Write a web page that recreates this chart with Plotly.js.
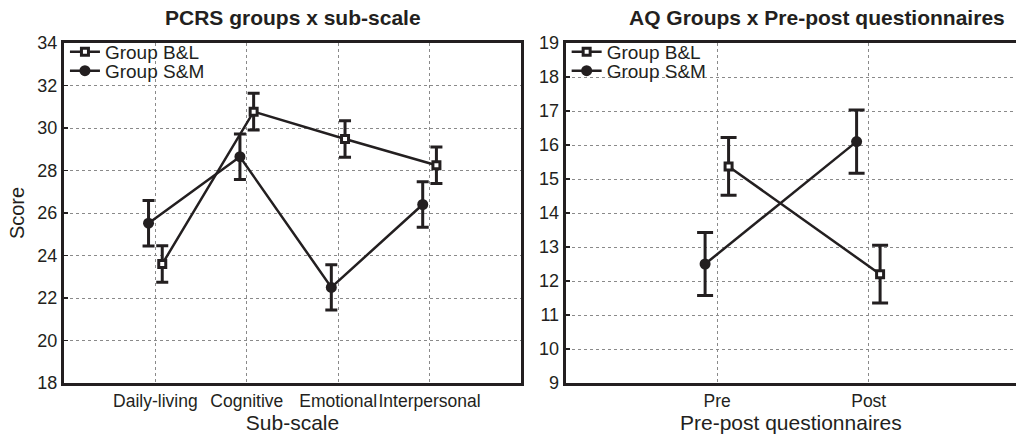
<!DOCTYPE html>
<html>
<head>
<meta charset="utf-8">
<script src="https://cdn.plot.ly/plotly-3.0.1.min.js"></script>
<style>
html,body{margin:0;padding:0;background:#fff;overflow:hidden;}
#chart{width:1016px;height:439px;}
</style>
</head>
<body>
<div id="chart"></div>
<script>
// ---- data ----
const subScales = ['Daily-living', 'Cognitive', 'Emotional', 'Interpersonal'];
const pcrsBL = [23.6, 30.77, 29.48, 28.25];
const pcrsBLErr = [0.86, 0.86, 0.86, 0.86];
const pcrsSM = [25.52, 28.65, 22.5, 26.4];
const pcrsSMErr = [1.07, 1.07, 1.07, 1.07];

const prePost = ['Pre', 'Post'];
const aqBL = [15.37, 12.2];
const aqBLErr = [0.85, 0.85];
const aqSM = [12.5, 16.1];
const aqSMErr = [0.93, 0.93];

const groupNames = ['Group B&L', 'Group S&M'];
const yTicks1 = [18, 20, 22, 24, 26, 28, 30, 32, 34];
const yTicks2 = [9, 10, 11, 12, 13, 14, 15, 16, 17, 18, 19];

// ---- styling ----
const INK = '#231f20';
const FONT = 'Liberation Sans, Arial, sans-serif';
const pos = (arr, off) => arr.map((_, i) => i + 1 + off);

function blTrace(cats, vals, errs, xa, ya, leg, off, capw) {
  return {
    type: 'scatter', mode: 'lines+markers', name: groupNames[0],
    x: pos(cats, off), y: vals, xaxis: xa, yaxis: ya, legend: leg,
    line: {color: INK, width: 2.5},
    marker: {symbol: 'square', size: 7, color: '#fff', line: {color: INK, width: 3}},
    error_y: {type: 'data', array: errs, visible: true, color: INK, thickness: 3, width: capw},
    hoverinfo: 'y'
  };
}
function smTrace(cats, vals, errs, xa, ya, leg, off, capw) {
  return {
    type: 'scatter', mode: 'lines+markers', name: groupNames[1],
    x: pos(cats, off), y: vals, xaxis: xa, yaxis: ya, legend: leg,
    line: {color: INK, width: 2.5},
    marker: {symbol: 'circle', size: 11, color: INK, line: {color: INK, width: 0}},
    error_y: {type: 'data', array: errs, visible: true, color: INK, thickness: 3, width: capw},
    hoverinfo: 'y'
  };
}

const data = [
  smTrace(subScales, pcrsSM, pcrsSMErr, 'x', 'y', 'legend3', -0.075, 6),
  blTrace(subScales, pcrsBL, pcrsBLErr, 'x', 'y', 'legend', 0.075, 6),
  smTrace(prePost, aqSM, aqSMErr, 'x2', 'y2', 'legend4', -0.08, 8),
  blTrace(prePost, aqBL, aqBLErr, 'x2', 'y2', 'legend2', 0.075, 8)
];

const tickFont = {family: FONT, size: 18, color: INK};
const xTickFont = {family: FONT, size: 17.5, color: INK};
const axTitleFont = {family: FONT, size: 21, color: INK};
const gridStyle = {showgrid: true, gridcolor: '#8a8a8a', griddash: 'dot', gridwidth: 1};
const frame = {showline: true, mirror: true, linecolor: INK, linewidth: 3, zeroline: false};

function leg(x, y) {
  return {
    x: x, y: y, yanchor: 'top', xanchor: 'left',
    bgcolor: 'rgba(255,255,255,0)', borderwidth: 0,
    font: {family: FONT, size: 19, color: INK},
    tracegroupgap: 0, itemwidth: 30
  };
}

const layout = {
  width: 1016, height: 439,
  margin: {l: 64, r: 0, t: 43, b: 56},
  paper_bgcolor: '#fff', plot_bgcolor: '#fff',
  font: {family: FONT, color: INK},
  showlegend: true,
  xaxis: Object.assign({
    domain: [0, 0.48], range: [0, 5],
    tickvals: pos(subScales, 0), ticktext: subScales, tickangle: 0,
    ticks: '', tickfont: xTickFont,
    title: {text: 'Sub-scale', font: axTitleFont, standoff: 5}
  }, gridStyle, frame),
  yaxis: Object.assign({
    domain: [0, 1], range: [18, 34],
    tickvals: yTicks1, ticks: 'inside', ticklen: 4, tickwidth: 1.5, tickcolor: INK,
    tickfont: tickFont,
    title: {text: 'Score', font: {family: FONT, size: 20, color: INK}, standoff: 8}
  }, gridStyle, frame),
  xaxis2: Object.assign({
    anchor: 'y2', domain: [0.527, 1], range: [0, 2.972],
    tickvals: pos(prePost, 0), ticktext: prePost, tickangle: 0,
    ticks: '', tickfont: xTickFont,
    title: {text: 'Pre-post questionnaires', font: axTitleFont, standoff: 5}
  }, gridStyle, frame),
  yaxis2: Object.assign({
    anchor: 'x2', domain: [0, 1], range: [9, 19],
    tickvals: yTicks2, ticks: 'inside', ticklen: 4, tickwidth: 1.5, tickcolor: INK,
    tickfont: tickFont
  }, gridStyle, frame, {mirror: false}),
  legend: leg(0.001, 1.03),
  legend3: leg(0.001, 0.974),
  legend2: leg(0.528, 1.03),
  legend4: leg(0.528, 0.974),
  annotations: [
    {text: '<b>PCRS groups x sub-scale</b>', xref: 'paper', yref: 'paper', x: 0.2405, y: 1.076,
     xanchor: 'center', yanchor: 'middle', showarrow: false, font: {family: FONT, size: 21, color: INK}},
    {text: '<b>AQ Groups x Pre-post questionnaires</b>', xref: 'paper', yref: 'paper', x: 0.791, y: 1.076,
     xanchor: 'center', yanchor: 'middle', showarrow: false, font: {family: FONT, size: 21, color: INK}}
  ]
};

Plotly.newPlot('chart', data, layout, {displayModeBar: false, staticPlot: true});
</script>
</body>
</html>
